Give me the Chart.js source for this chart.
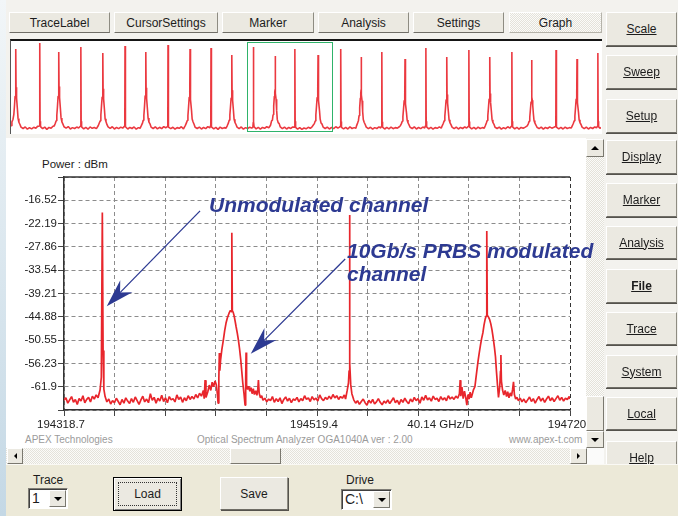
<!DOCTYPE html>
<html>
<head>
<meta charset="utf-8">
<title>OSA trace</title>
<script src="https://cdn.jsdelivr.net/npm/chart.js@4.4.1/dist/chart.umd.min.js"></script>
<style>
  body { margin:0; width:678px; height:516px; position:relative; overflow:hidden; background:#f3f2ee;
         font-family:"Liberation Sans", Arial, sans-serif; font-size:12px; color:#1c1c1c; }
  .a { position:absolute; }
  .btn { position:absolute; box-sizing:border-box; background:#ebe9e1; border:1px solid;
         border-color:#ffffff #8e8c82 #6f6d66 #ffffff; display:flex; align-items:center; justify-content:center; }
  .tab { top:12px; height:21px; }
  .side { left:606px; width:71px; text-decoration:underline; box-shadow:0 1px 0 #55534d; }
  .hatch { background: repeating-conic-gradient(#fbfbf9 0 25%, #e4e2da 0 50%) 0 0/2px 2px; }
  .sb { position:absolute; box-sizing:border-box; background:#ebe9e1; border:1px solid;
        border-color:#fff #7a786f #7a786f #fff; display:flex; align-items:center; justify-content:center; }
  .up { width:0; height:0; border-left:4px solid transparent; border-right:4px solid transparent; border-bottom:4px solid #000; }
  .down { width:0; height:0; border-left:4px solid transparent; border-right:4px solid transparent; border-top:4px solid #000; }
  .lt { width:0; height:0; border-top:3px solid transparent; border-bottom:3px solid transparent; border-right:3px solid #000; }
  .rt { width:0; height:0; border-top:3px solid transparent; border-bottom:3px solid transparent; border-left:3px solid #000; }
  .gray { color:#9b9b9b; font-size:10px; line-height:10px; white-space:nowrap; }
  .note { color:#2d3a92; font-weight:bold; font-style:italic; font-size:21px; line-height:23.4px; white-space:nowrap; z-index:5; }
  .combo { position:absolute; box-sizing:border-box; background:#fff; border:1px solid;
           border-color:#7f7d76 #fff #fff #7f7d76; box-shadow:inset 1px 1px 0 #404040;
           font-size:14px; line-height:19px; padding-left:3px; z-index:3; }
</style>
</head>
<body>
<div class="a" style="left:0;top:0;width:6px;height:516px;background:linear-gradient(#f2f6f8,#c4d8e5)"></div>

<div class="btn tab" style="left:9px;width:101px">TraceLabel</div>
<div class="btn tab" style="left:114px;width:104px">CursorSettings</div>
<div class="btn tab" style="left:222px;width:92px">Marker</div>
<div class="btn tab" style="left:318px;width:91px">Analysis</div>
<div class="btn tab" style="left:413px;width:91px">Settings</div>
<div class="btn tab hatch" style="left:509px;width:93px;border-color:#fff #b5b3aa #b5b3aa #fff">Graph</div>

<div class="a" style="left:10px;top:39px;width:592px;height:95px;box-sizing:border-box;background:#fff;border-top:2px solid #151515;border-left:1px solid #555"></div>
<canvas id="overview" class="a" style="left:11px;top:41px" width="590" height="92"></canvas>

<div class="a" style="left:6px;top:138px;width:580px;height:310px;background:#fff"></div>
<div class="a" style="left:42px;top:158px;font-size:11.5px;line-height:12px">Power : dBm</div>
<div class="a gray" style="left:25px;top:435px">APEX Technologies</div>
<div class="a gray" style="left:197px;top:435px">Optical Spectrum Analyzer OGA1040A ver : 2.00</div>
<div class="a gray" style="left:509px;top:435px">www.apex-t.com</div>
<canvas id="main" class="a" style="left:0;top:138px" width="604" height="302"></canvas>

<div class="a hatch" style="left:586px;top:139px;width:18px;height:309px"></div>
<div class="sb" style="left:586px;top:139px;width:18px;height:18px"><div class="up"></div></div>
<div class="sb" style="left:586px;top:396px;width:18px;height:35px"></div>
<div class="sb" style="left:586px;top:431px;width:18px;height:17px"><div class="down"></div></div>
<div class="a hatch" style="left:6px;top:448px;width:581px;height:16px"></div>
<div class="sb" style="left:7px;top:448px;width:16px;height:16px"><div class="lt"></div></div>
<div class="sb" style="left:230px;top:448px;width:51px;height:16px"></div>
<div class="sb" style="left:570px;top:448px;width:17px;height:16px"><div class="rt"></div></div>
<div class="a" style="left:587px;top:448px;width:17px;height:16px;background:#fbfbfa"></div>

<div class="a note" style="left:209px;top:193px">Unmodulated channel</div>
<div class="a note" style="left:347px;top:239px">10Gb/s PRBS modulated<br>channel</div>

<div class="btn side" style="top:12px;height:34px">Scale</div>
<div class="btn side" style="top:55px;height:34px">Sweep</div>
<div class="btn side" style="top:99px;height:34px">Setup</div>
<div class="btn side" style="top:140px;height:34px">Display</div>
<div class="btn side" style="top:183px;height:34px">Marker</div>
<div class="btn side" style="top:226px;height:33px">Analysis</div>
<div class="btn side" style="top:269px;height:34px;font-weight:bold">File</div>
<div class="btn side" style="top:312px;height:33px">Trace</div>
<div class="btn side" style="top:355px;height:33px">System</div>
<div class="btn side" style="top:397px;height:33px">Local</div>
<div class="btn side" style="top:441px;height:33px">Help</div>

<div class="a" style="left:6px;top:464px;width:672px;height:52px;background:#ece9d8;border-top:1px solid #faf9f5;z-index:2"></div>
<div class="a" style="left:33px;top:473px;z-index:3">Trace</div>
<div class="combo" style="left:28px;top:488px;width:40px;height:21px">1<div class="sb" style="right:1px;top:1px;width:17px;height:17px"><div class="down"></div></div></div>
<div class="btn" style="left:113px;top:477px;width:69px;height:34px;border:1px solid #000;box-shadow:inset 1px 1px 0 #fff, inset -1px -1px 0 #808080;z-index:3"><div class="a" style="left:4px;top:4px;right:4px;bottom:4px;border:1px dotted #333"></div>Load</div>
<div class="btn" style="left:220px;top:477px;width:68px;height:33px;z-index:3;box-shadow:1px 1px 0 #55534d">Save</div>
<div class="a" style="left:346px;top:473px;z-index:3">Drive</div>
<div class="combo" style="left:341px;top:489px;width:51px;height:21px">C:\<div class="sb" style="right:1px;top:1px;width:17px;height:17px"><div class="down"></div></div></div>

<script>
// main display: frequency as offset in GHz from 194318.7 GHz, power in dBm
const xTickValues = [0, 40.13, 80.26, 120.39, 160.52, 200.65, 240.78, 280.91, 300.98, 321.04, 361.17, 401.3];
const xTickLabels = ['194318.7', '', '', '', '', '194519.4', '', '', '40.14 GHz/D', '', '', '194720'];
const yTickValues = [-67.57, -61.9, -56.23, -50.55, -44.88, -39.21, -33.54, -27.86, -22.19, -16.52, -10.85];
const yTickLabels = ['', '-61.9', '-56.23', '-50.55', '-44.88', '-39.21', '-33.54', '-27.86', '-22.19', '-16.52', ''];

const floorA = [[0,-65.2],[1.5,-64.6],[3,-65.9],[4.5,-65.1],[6,-64.3],[7.5,-65.7],[9,-65.0],[10.5,-66.2],[12,-64.8],[13.5,-65.4],[15,-64.1],[16.5,-65.8],[18,-65.0],[19.5,-64.5],[21,-65.6],[22.5,-64.2],[24,-64.9],[25.5,-63.9],[27,-64.6]];
const unmodulated1 = [[28.6,-62.7],[29.6,-59.6],[30.4,-19.5],[31.0,-53.1],[31.6,-62.5],[32.6,-64.3]];
const floorB = [[34,-65.6],[35.5,-64.9],[37,-66.1],[38.5,-65.3],[40,-65.8],[41.5,-64.7],[43,-65.5],[44.5,-66.3],[46,-65.0],[47.5,-65.9],[49,-64.6],[50.5,-65.4],[52,-66.0],[53.5,-64.8],[55,-65.7],[56.5,-64.4],[58,-65.3],[59.5,-66.2],[61,-65.1],[62.5,-64.2],[64,-65.6],[65.5,-64.9],[67,-65.8],[68.5,-63.6],[70,-65.2],[71.5,-64.5],[73,-65.9],[74.5,-64.7],[76,-65.4],[77.5,-64.0],[79,-65.5],[80.5,-64.6],[82,-65.8],[83.5,-64.3],[85,-65.1],[86.5,-64.8],[88,-65.6],[89.5,-63.9],[91,-65.0],[92.5,-64.4],[94,-65.7],[95.5,-64.6],[97,-65.3],[98.5,-64.1],[100,-65.0],[101.5,-64.3],[103,-64.9],[104.5,-63.8],[106,-64.6],[107.5,-63.5],[109,-64.2],[110.5,-62.8]];
const modulated1 = [[111.2,-64.8],[111.9,-60.3],[112.6,-64.5],[114,-63.2],[115.2,-61.5],[116.4,-62.8],[117.5,-60.8],[118.6,-61.9],[119.8,-60.5],[120.8,-61.4],[121.6,-63.5],[122.2,-65.9],[122.8,-60.0],[123.2,-53.7],[123.6,-58.0],[124.2,-55.4],[125.2,-52.8],[126.4,-50.5],[127.4,-48.3],[128.5,-46.4],[129.6,-45.1],[130.9,-44.0],[132.0,-43.3],[132.7,-43.6],[133.1,-24.4],[133.5,-43.4],[134.2,-43.8],[134.9,-44.6],[135.7,-45.9],[136.5,-47.3],[137.4,-48.8],[138.3,-50.5],[139.2,-52.6],[140.2,-55.4],[141.0,-58.2],[141.8,-61.0],[142.7,-63.4],[143.6,-66.4],[144.1,-60.0],[144.4,-53.6],[144.8,-61.5],[145.6,-62.6],[146.5,-61.8],[147.4,-63.0],[148.3,-62.1],[149.2,-63.6],[150.1,-62.4],[151.0,-63.8],[152.0,-62.9],[153.0,-64.0],[153.7,-62.5],[154.2,-60.3],[154.8,-63.5],[155.8,-64.6],[156.8,-64.1],[157.8,-65.2]];
const floorC = [[159.3,-64.7],[160.8,-65.6],[162.3,-64.9],[163.8,-65.3],[165.3,-64.3],[166.8,-65.7],[168.3,-64.8],[169.8,-65.5],[171.3,-64.6],[172.8,-66.0],[174.3,-65.0],[175.8,-64.4],[177.3,-65.4],[178.8,-64.7],[180.3,-65.8],[181.8,-64.9],[183.3,-65.2],[184.8,-64.5],[186.3,-65.6],[187.8,-64.8],[189.3,-65.3],[190.8,-64.1],[192.3,-65.0],[193.8,-64.6],[195.3,-65.5],[196.8,-64.3],[198.3,-65.1],[199.8,-64.7],[201.3,-65.4],[202.8,-63.9],[204.3,-64.8],[205.8,-65.3],[207.3,-64.5],[208.8,-65.0],[210.3,-64.2],[211.8,-64.9],[213.3,-63.8],[214.8,-64.6],[216.3,-64.1],[217.8,-65.0],[219.3,-64.3],[220.8,-64.7],[222.3,-63.9],[223.3,-64.9]];
const unmodulated2 = [[224.6,-62.8],[225.6,-61.0],[226.1,-58.0],[226.4,-20.1],[226.8,-56.2],[227.4,-61.4],[228.3,-63.6]];
const floorD = [[229.8,-65.1],[231.3,-65.9],[232.8,-65.3],[234.3,-66.2],[235.8,-65.5],[237.3,-64.9],[238.8,-65.8],[240.3,-66.4],[241.8,-65.2],[243.3,-65.9],[244.8,-65.0],[246.3,-66.1],[247.8,-65.6],[249.3,-64.8],[250.8,-65.7],[252.3,-66.3],[253.8,-65.4],[255.3,-65.9],[256.8,-65.1],[258.3,-66.0],[259.8,-65.3],[261.3,-64.6],[262.8,-65.8],[264.3,-65.2],[265.8,-66.2],[267.3,-65.0],[268.8,-65.7],[270.3,-64.7],[271.8,-65.5],[273.3,-66.0],[274.8,-64.9],[276.3,-65.6],[277.8,-64.5],[279.3,-65.3],[280.8,-64.8],[282.3,-65.9],[283.8,-64.4],[285.3,-65.2],[286.8,-64.0],[288.3,-65.1],[289.8,-64.6],[291.3,-65.4],[292.8,-64.2],[294.3,-65.0],[295.8,-64.7],[297.3,-65.5],[298.8,-64.3],[300.3,-65.1],[301.8,-64.6],[303.3,-65.3],[304.8,-64.1],[306.3,-64.9],[307.8,-64.4],[309.3,-65.0],[310.8,-64.2],[312.3,-64.7],[313.6,-63.6]];
const modulated2 = [[314.2,-60.3],[314.7,-64.2],[315.6,-62.0],[316.6,-64.8],[317.6,-63.0],[318.6,-64.5],[319.5,-66.4],[320.4,-63.8],[321.3,-64.9],[322.1,-63.2],[323.0,-64.6],[324.0,-63.5],[324.8,-62.6],[325.9,-61.9],[326.7,-59.8],[327.5,-57.8],[328.4,-55.6],[329.3,-53.7],[330.3,-51.8],[331.2,-50.2],[332.2,-48.8],[333.1,-46.9],[334.0,-45.5],[334.8,-44.7],[335.2,-44.4],[335.4,-24.0],[335.7,-44.5],[336.6,-44.9],[337.5,-45.5],[338.5,-46.6],[339.4,-48.0],[340.0,-49.2],[340.6,-50.5],[341.4,-52.4],[342.2,-54.6],[343.0,-58.3],[343.8,-61.5],[344.6,-64.5],[345.6,-61.8],[346.2,-58.0],[346.5,-54.2],[346.9,-60.5],[347.8,-62.7],[348.8,-63.9],[349.9,-62.8],[351.0,-64.3],[351.9,-63.1],[352.9,-64.6],[353.9,-63.4],[354.9,-64.2],[355.8,-62.5],[356.5,-60.7],[357.2,-63.8],[358.2,-64.9],[359.2,-64.5],[360.4,-65.3],[361.8,-64.7]];
const floorE = [[363.2,-65.6],[364.7,-64.9],[366.2,-65.8],[367.7,-65.1],[369.2,-64.4],[370.7,-65.5],[372.2,-64.8],[373.7,-65.9],[375.2,-65.0],[376.7,-64.3],[378.2,-65.4],[379.7,-64.7],[381.2,-65.7],[382.7,-64.9],[384.2,-64.2],[385.7,-65.3],[387.2,-64.6],[388.7,-65.5],[390.2,-64.8],[391.7,-64.1],[393.2,-65.2],[394.7,-64.5],[396.2,-65.4],[397.7,-64.7],[399.2,-65.0],[400.7,-64.3],[401.3,-64.9]];

const mainTrace = [...floorA, ...unmodulated1, ...floorB, ...modulated1, ...floorC,
                   ...unmodulated2, ...floorD, ...modulated2, ...floorE];

// overview strip (same GHz offsets), whole band
const overviewRange = [-1114.3, 1671.3];
const overviewTrace = [
  [-1114,-63.8],[-1110,-61.6],[-1105,-60.2],[-1101,-57.4],[-1098,-52.6],[-1095,-46.8],[-1093,-43.5],[-1091.5,-41.3],[-1091,-19.6],[-1090.5,-41.6],[-1089,-44.2],[-1087,-47.9],[-1084,-54.3],[-1081,-59.6],[-1077,-61.8],[-1072,-63.1],[-1067,-64.6],
  [-1057,-65.4],[-1047,-64.5],[-1037,-65.8],[-1027,-64.9],[-1017,-65.6],[-1007,-64.7],[-997,-65.3],[-989,-64.2],
  [-981,-64.0],[-979,-61.5],[-978,-16.2],[-977,-61.2],[-975,-64.3],
  [-965,-65.5],[-955,-64.6],[-945,-65.9],[-935,-64.8],[-925,-65.2],[-916,-64.1],
  [-910,-63.9],[-905,-62.4],[-901,-60.9],[-898,-57.8],[-895,-52.9],[-892,-46.9],[-890,-43.4],[-888.5,-40.9],[-888,-21.3],[-887.5,-41.2],[-886,-43.8],[-884,-47.6],[-881,-54.1],[-878,-59.3],[-874,-61.6],[-869,-62.9],[-864,-64.4],
  [-854,-65.2],[-844,-64.3],[-834,-65.7],[-824,-64.9],[-814,-65.4],[-804,-64.6],[-795,-65.1],
  [-787,-64.1],[-785,-61.7],[-784,-18.5],[-783,-61.3],[-781,-64.5],
  [-771,-65.6],[-761,-64.7],[-751,-65.8],[-741,-64.5],[-731,-65.3],[-721,-64.8],[-711,-65.5],
  [-702,-63.7],[-697,-62.1],[-693,-61.0],[-690,-57.6],[-687,-52.4],[-684,-47.3],[-682,-44.5],[-680.5,-42.3],[-680,-21.9],[-679.5,-42.5],[-678,-45.0],[-676,-48.4],[-673,-54.6],[-670,-59.8],[-666,-61.4],[-661,-63.2],[-656,-64.5],
  [-646,-65.3],[-636,-64.4],[-626,-65.7],[-616,-64.8],[-606,-65.5],[-596,-64.6],[-587,-65.2],
  [-579,-64.2],[-577,-61.4],[-576,-17.9],[-575,-61.8],[-573,-64.4],
  [-563,-65.7],[-553,-64.8],[-543,-65.4],[-533,-64.5],[-523,-65.8],[-513,-64.9],[-505,-65.3],
  [-499,-63.8],[-494,-62.5],[-490,-60.7],[-487,-57.9],[-484,-52.8],[-481,-46.6],[-479,-43.9],[-477.5,-41.7],[-477,-21.3],[-476.5,-42.0],[-475,-44.6],[-473,-48.1],[-470,-54.5],[-467,-59.4],[-463,-61.7],[-458,-62.8],[-453,-64.6],
  [-443,-65.4],[-433,-64.5],[-423,-65.6],[-413,-64.7],[-403,-65.5],[-393,-64.3],[-384,-65.0],
  [-376,-64.3],[-374,-61.6],[-373,-17.3],[-372,-61.1],[-370,-64.6],
  [-360,-65.5],[-350,-64.7],[-340,-65.8],[-330,-64.9],[-320,-65.3],[-310,-64.4],[-300,-65.6],
  [-291,-63.6],[-286,-62.2],[-282,-60.8],[-279,-58.1],[-276,-53.1],[-273,-47.4],[-271,-44.7],[-269.5,-42.8],[-269,-19.6],[-268.5,-43.0],[-267,-45.3],[-265,-48.8],[-262,-55.0],[-259,-59.9],[-255,-61.5],[-250,-63.0],[-245,-64.7],
  [-235,-65.4],[-225,-64.6],[-215,-65.7],[-205,-64.8],[-195,-65.5],[-185,-64.3],[-176,-65.1],
  [-173,-64.0],[-171,-61.3],[-170,-19.0],[-169,-61.9],[-167,-64.5],
  [-157,-65.6],[-147,-64.8],[-137,-65.9],[-127,-64.6],[-117,-65.4],[-107,-64.9],[-99,-65.2],
  [-93,-63.7],[-88,-62.3],[-84,-60.6],[-81,-57.7],[-78,-52.9],[-75,-47.8],[-73,-45.0],[-71.5,-43.2],[-71,-23.1],[-70.5,-43.4],[-69,-45.8],[-67,-49.1],[-64,-55.2],[-61,-60.1],[-57,-61.9],[-52,-63.1],[-47,-64.6],
  [-37,-65.5],[-27,-64.5],[-17,-65.8],[-7,-64.9],[3,-65.4],[13,-64.6],[21,-65.2],
  [27.5,-64.8],[29.4,-61.8],[30.4,-18.5],[31.4,-61.5],[33.4,-64.4],
  [43,-65.6],[53,-64.7],[63,-65.8],[73,-64.8],[83,-65.3],[93,-64.4],[103,-65.0],
  [111,-63.5],[116,-61.0],[120,-60.6],[123,-57.5],[126,-52.4],[129,-46.9],[131,-44.5],[132.5,-42.8],[133,-23.6],[133.5,-43.0],[135,-45.2],[137,-48.5],[140,-55.1],[143,-60.3],[147,-62.0],[152,-62.6],[157,-64.5],
  [167,-65.5],[177,-64.6],[187,-65.7],[197,-64.8],[207,-65.4],[216,-64.5],
  [223.4,-64.6],[225.4,-61.5],[226.4,-19.6],[227.4,-61.2],[229.4,-64.8],
  [239,-65.8],[249,-64.9],[259,-65.9],[269,-65.1],[279,-65.6],[289,-64.7],[299,-65.3],[307,-64.5],
  [313,-63.4],[318,-62.6],[322,-61.1],[325,-57.6],[328,-52.7],[331,-47.6],[333,-45.0],[334.9,-43.2],[335.4,-23.1],[335.9,-43.5],[337.4,-45.6],[339.4,-49.2],[342.4,-55.3],[345.4,-60.0],[349.4,-62.2],[354.4,-62.9],[359.4,-64.6],
  [369,-65.4],[379,-64.6],[389,-65.7],[399,-64.8],[409,-65.5],[419,-64.4],[429,-65.1],[437,-64.6],
  [440,-64.2],[442,-61.7],[443,-19.6],[444,-61.4],[446,-64.7],
  [456,-65.6],[466,-64.8],[476,-65.7],[486,-64.5],[496,-65.4],[506,-64.9],[514,-65.3],
  [517,-63.9],[522,-62.3],[526,-60.9],[529,-58.0],[532,-53.3],[535,-47.9],[537,-45.1],[538.5,-43.2],[539,-24.2],[539.5,-43.5],[541,-46.0],[543,-49.4],[546,-55.6],[549,-60.2],[553,-61.8],[558,-63.1],[563,-64.6],
  [573,-65.5],[583,-64.7],[593,-65.8],[603,-64.9],[613,-65.4],[623,-64.5],[631,-65.1],
  [634,-64.3],[636,-61.9],[637,-21.3],[638,-61.5],[640,-64.6],
  [650,-65.7],[660,-64.8],[670,-65.6],[680,-64.6],[690,-65.5],[700,-64.9],[710,-65.2],[719,-64.4],
  [724,-63.8],[729,-62.6],[733,-61.2],[736,-58.6],[739,-54.0],[742,-49.3],[744,-47.2],[745.5,-46.1],[746,-25.4],[746.5,-46.4],[748,-48.3],[750,-51.2],[753,-56.4],[756,-60.5],[760,-62.1],[765,-63.3],[770,-64.7],
  [780,-65.4],[790,-64.5],[800,-65.7],[810,-64.8],[820,-65.5],[830,-64.6],[839,-65.1],
  [842,-64.0],[844,-61.6],[845,-19.0],[846,-61.3],[848,-64.5],
  [858,-65.6],[868,-64.7],[878,-65.8],[888,-64.9],[898,-65.3],[908,-64.5],[917,-65.2],
  [922,-63.7],[927,-62.4],[931,-61.0],[934,-58.3],[937,-53.8],[940,-48.9],[942,-46.6],[943.5,-45.5],[944,-24.2],[944.5,-45.8],[946,-47.9],[948,-50.8],[951,-56.1],[954,-60.4],[958,-62.0],[963,-63.2],[968,-64.6],
  [978,-65.5],[988,-64.6],[998,-65.7],[1008,-64.8],[1018,-65.4],[1028,-64.5],[1037,-65.1],
  [1045,-64.2],[1047,-61.8],[1048,-20.2],[1049,-61.4],[1051,-64.6],
  [1061,-65.6],[1071,-64.8],[1081,-65.7],[1091,-64.6],[1101,-65.4],[1111,-64.9],[1120,-65.2],
  [1125,-63.8],[1130,-62.2],[1134,-60.8],[1137,-58.0],[1140,-53.4],[1143,-48.5],[1145,-46.2],[1146.5,-45.0],[1147,-24.2],[1147.5,-45.3],[1149,-47.4],[1151,-50.5],[1154,-55.9],[1157,-60.3],[1161,-61.9],[1166,-63.0],[1171,-64.7],
  [1181,-65.4],[1191,-64.6],[1201,-65.8],[1211,-64.9],[1221,-65.5],[1231,-64.4],[1241,-65.2],
  [1248,-64.1],[1250,-61.7],[1251,-21.3],[1252,-61.2],[1254,-64.5],
  [1264,-65.6],[1274,-64.7],[1284,-65.8],[1294,-64.8],[1304,-65.3],[1314,-64.6],
  [1323,-63.9],[1328,-62.7],[1332,-61.3],[1335,-58.9],[1338,-54.6],[1341,-50.1],[1343,-48.0],[1344.5,-47.0],[1345,-26.0],[1345.5,-47.3],[1347,-49.2],[1349,-52.0],[1352,-56.9],[1355,-60.8],[1359,-62.2],[1364,-63.4],[1369,-64.7],
  [1379,-65.5],[1389,-64.6],[1399,-65.8],[1409,-64.8],[1419,-65.4],[1429,-64.5],[1439,-65.2],[1449,-64.7],
  [1456,-64.3],[1458,-61.8],[1459,-20.2],[1460,-61.4],[1462,-64.6],
  [1472,-65.6],[1482,-64.8],[1492,-65.7],[1502,-64.6],[1512,-65.4],[1522,-64.9],[1531,-65.1],
  [1536,-63.8],[1541,-62.4],[1545,-61.0],[1548,-58.2],[1551,-53.5],[1554,-48.4],[1556,-46.0],[1557.5,-44.8],[1558,-25.4],[1558.5,-45.1],[1560,-47.3],[1562,-50.6],[1565,-56.0],[1568,-60.4],[1572,-62.0],[1577,-63.1],[1582,-64.6],
  [1592,-65.5],[1602,-64.6],[1612,-65.7],[1622,-64.8],[1632,-65.4],[1642,-64.5],[1650,-65.0],
  [1654,-64.2],[1656,-61.6],[1657,-21.9],[1658,-61.3],[1660,-64.4],
  [1666,-65.3],[1671,-64.8]
];

// arrow callouts, in data units (GHz offset, dBm)
const arrowFrom = [[107.9, -19.1], [223.0, -30.8]];
const arrowTo   = [[33.9, -42.3], [148.1, -53.9]];

Chart.defaults.font.family = '"Liberation Sans", Arial, sans-serif';
Chart.defaults.color = '#222';

const frameTop = {
  id: 'frameTop',
  afterDraw(chart) {
    const { ctx, chartArea: a } = chart;
    ctx.save();
    ctx.strokeStyle = '#333';
    ctx.lineWidth = 1.5;
    ctx.beginPath();
    ctx.moveTo(a.left, a.top);
    ctx.lineTo(a.right, a.top);
    ctx.stroke();
    ctx.restore();
  }
};

const arrows = {
  id: 'arrows',
  afterDatasetsDraw(chart) {
    const { ctx, scales: { x, y } } = chart;
    ctx.save();
    ctx.strokeStyle = ctx.fillStyle = '#2d3a92';
    ctx.lineWidth = 1.3;
    arrowFrom.forEach((from, i) => {
      const x0 = x.getPixelForValue(from[0]), y0 = y.getPixelForValue(from[1]);
      const x1 = x.getPixelForValue(arrowTo[i][0]), y1 = y.getPixelForValue(arrowTo[i][1]);
      const len = Math.hypot(x1 - x0, y1 - y0);
      const ux = (x1 - x0) / len, uy = (y1 - y0) / len, nx = -uy, ny = ux;
      const bx = x1 - ux * 28, by = y1 - uy * 28;
      const mx = x1 - ux * 19, my = y1 - uy * 19;
      ctx.beginPath();
      ctx.moveTo(x0, y0);
      ctx.lineTo(mx, my);
      ctx.stroke();
      ctx.beginPath();
      ctx.moveTo(x1, y1);
      ctx.lineTo(bx + nx * 8.5, by + ny * 8.5);
      ctx.lineTo(mx, my);
      ctx.lineTo(bx - nx * 8.5, by - ny * 8.5);
      ctx.closePath();
      ctx.fill();
    });
    ctx.restore();
  }
};

new Chart(document.getElementById('main'), {
  type: 'line',
  data: {
    datasets: [{
      data: mainTrace,
      borderColor: '#e8262c',
      borderWidth: 1.7,
      borderJoinStyle: 'bevel',
      pointRadius: 0,
      tension: 0,
      fill: false,
    }],
  },
  options: {
    responsive: false,
    animation: false,
    devicePixelRatio: 1,
    events: [],
    layout: { padding: { top: 39, right: 34, left: 0, bottom: 0 } },
    plugins: { legend: { display: false }, tooltip: { enabled: false } },
    scales: {
      x: {
        type: 'linear', min: 0, max: 401.3,
        afterBuildTicks: s => { s.ticks = xTickValues.map(v => ({ value: v })); },
        afterFit: s => { s.height = 30; },
        ticks: {
          autoSkip: false, maxRotation: 0, padding: 2, labelOffset: -3, color: '#222',
          font: { size: 11.5 },
          callback: (v, i) => xTickLabels[i],
        },
        grid: {
          color: c => c.index === 8 ? 'rgba(0,0,0,0)' : (c.index === 11 ? '#333' : '#8c8c8c'),
          tickColor: c => c.index === 8 ? 'rgba(0,0,0,0)' : '#444',
          tickLength: 6,
          lineWidth: 1,
        },
        border: { color: '#333', width: 1.5, dash: [4, 3] },
      },
      y: {
        min: -67.57, max: -10.85,
        afterBuildTicks: s => { s.ticks = yTickValues.map(v => ({ value: v })); },
        afterFit: s => { s.width = 64; },
        ticks: {
          autoSkip: false, padding: 1, color: '#222',
          font: { size: 11.5 },
          callback: (v, i) => yTickLabels[i],
        },
        grid: { color: '#8c8c8c', tickColor: '#444', tickLength: 6, lineWidth: 1 },
        border: { color: '#333', width: 1.5, dash: [4, 3] },
      },
    },
  },
  plugins: [frameTop, arrows],
});

const windowBox = {
  id: 'windowBox',
  afterDatasetsDraw(chart) {
    const { ctx, chartArea: a, scales: { x } } = chart;
    const x1 = x.getPixelForValue(xTickValues[0]);
    const x2 = x.getPixelForValue(xTickValues[xTickValues.length - 1]);
    ctx.save();
    ctx.strokeStyle = '#2fb36a';
    ctx.lineWidth = 1;
    ctx.strokeRect(Math.round(x1) + 0.5, a.top + 1.5, Math.round(x2 - x1), a.bottom - a.top - 3);
    ctx.restore();
  }
};

new Chart(document.getElementById('overview'), {
  type: 'line',
  data: {
    datasets: [{
      data: overviewTrace,
      borderColor: 'rgba(232,30,38,0.88)',
      borderWidth: 1.6,
      borderJoinStyle: 'bevel',
      pointRadius: 0,
      tension: 0,
    }],
  },
  options: {
    responsive: false,
    animation: false,
    devicePixelRatio: 1,
    events: [],
    layout: { padding: 0 },
    plugins: { legend: { display: false }, tooltip: { enabled: false } },
    scales: {
      x: { type: 'linear', display: false, min: overviewRange[0], max: overviewRange[1] },
      y: { display: false, min: -68, max: -15 },
    },
  },
  plugins: [windowBox],
});
</script>
</body>
</html>
